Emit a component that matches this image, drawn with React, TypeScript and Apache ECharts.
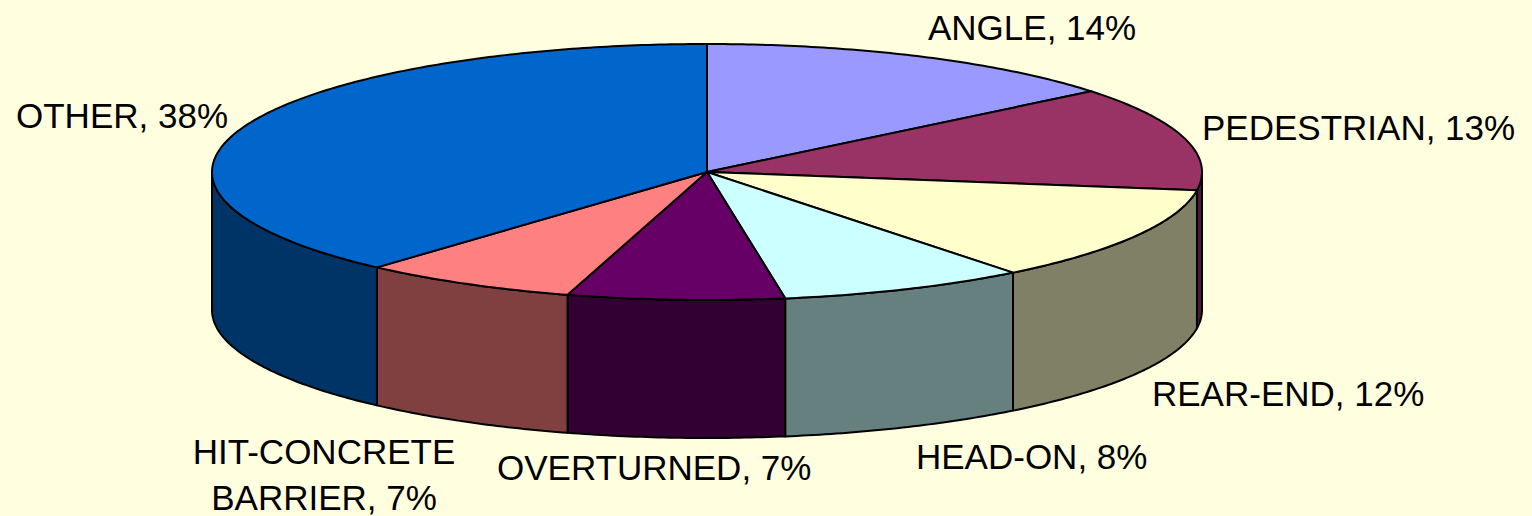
import React, { useEffect, useRef } from "react";
import * as echarts from "echarts";

const categories = ["ANGLE", "PEDESTRIAN", "REAR-END", "HEAD-ON", "OVERTURNED", "HIT-CONCRETE\nBARRIER", "OTHER"];
const shares = [14, 13, 12, 8, 7, 7, 38];
const topColors = ["#9999FF", "#993366", "#FFFFCC", "#CCFFFF", "#660066", "#FF8080", "#0066CC"];
const sideColors = ["#4D4D80", "#4D1933", "#808066", "#668080", "#330033", "#804040", "#003366"];

const labelAnchors: [number, number, string][] = [
  [928, 27, "left"],
  [1202, 127, "left"],
  [1152, 393, "left"],
  [916, 456, "left"],
  [497, 467, "left"],
  [324, 474, "center"],
  [16, 115, "left"],
];

const CX = 707;
const CY = 172;
const RX = 495;
const RY = 128;
const DEPTH = 138;
const BG = "#FFFFE0";
const total = shares.reduce((a, b) => a + b, 0);

const startOf = (i: number) =>
  (shares.slice(0, i).reduce((a, b) => a + b, 0) / total) * Math.PI * 2;

const rim = (t: number, dy = 0): [number, number] => [
  CX + RX * Math.sin(t),
  CY - RY * Math.cos(t) + dy,
];

const arcPoints = (a: number, b: number, dy = 0) => {
  const n = Math.max(2, Math.ceil((b - a) / 0.012));
  const pts: [number, number][] = [];
  for (let k = 0; k <= n; k++) pts.push(rim(a + ((b - a) * k) / n, dy));
  return pts;
};

export default function App() {
  const ref = useRef<HTMLDivElement>(null);

  useEffect(() => {
    if (!ref.current) return;
    const chart = echarts.init(ref.current, undefined, { renderer: "svg" });
    const rows = shares.map((v, i) => ({ value: [v], name: categories[i] }));

    chart.setOption({
      animation: false,
      backgroundColor: BG,
      graphic: categories.map((c, i) => ({
        type: "text",
        x: labelAnchors[i][0],
        y: labelAnchors[i][1],
        z: 10,
        silent: true,
        style: {
          text: `${c}, ${shares[i]}%`,
          fontFamily: "Liberation Sans",
          fontSize: 35,
          lineHeight: 46,
          fill: "#000000",
          align: labelAnchors[i][2],
          verticalAlign: "middle",
        },
      })),
      series: [
        {
          type: "custom",
          coordinateSystem: "none",
          silent: true,
          z: 1,
          data: rows,
          renderItem: (params: any, api: any) => {
            const i = params.dataIndex;
            const a = startOf(i);
            const b = a + (api.value(0) / total) * Math.PI * 2;
            const from = Math.max(a, Math.PI / 2);
            const to = Math.min(b, (Math.PI * 3) / 2);
            if (to <= from) return { type: "group", children: [] };
            const points = [
              ...arcPoints(from, to, 0),
              ...arcPoints(from, to, DEPTH).reverse(),
            ];
            return {
              type: "polygon",
              shape: { points },
              style: { fill: sideColors[i], stroke: "#000000", lineWidth: 2, lineJoin: "round" },
            };
          },
        },
        {
          type: "custom",
          coordinateSystem: "none",
          silent: true,
          z: 2,
          data: rows,
          renderItem: (params: any, api: any) => {
            const i = params.dataIndex;
            const a = startOf(i);
            const b = a + (api.value(0) / total) * Math.PI * 2;
            const points = [[CX, CY], ...arcPoints(a, b, 0)];
            return {
              type: "polygon",
              shape: { points },
              style: { fill: topColors[i], stroke: "#000000", lineWidth: 2, lineJoin: "round" },
            };
          },
        },
      ],
    });
    return () => chart.dispose();
  }, []);

  return (
    <div
      ref={ref}
      style={{ position: "fixed", left: 0, top: 0, width: 1532, height: 516 }}
    />
  );
}
